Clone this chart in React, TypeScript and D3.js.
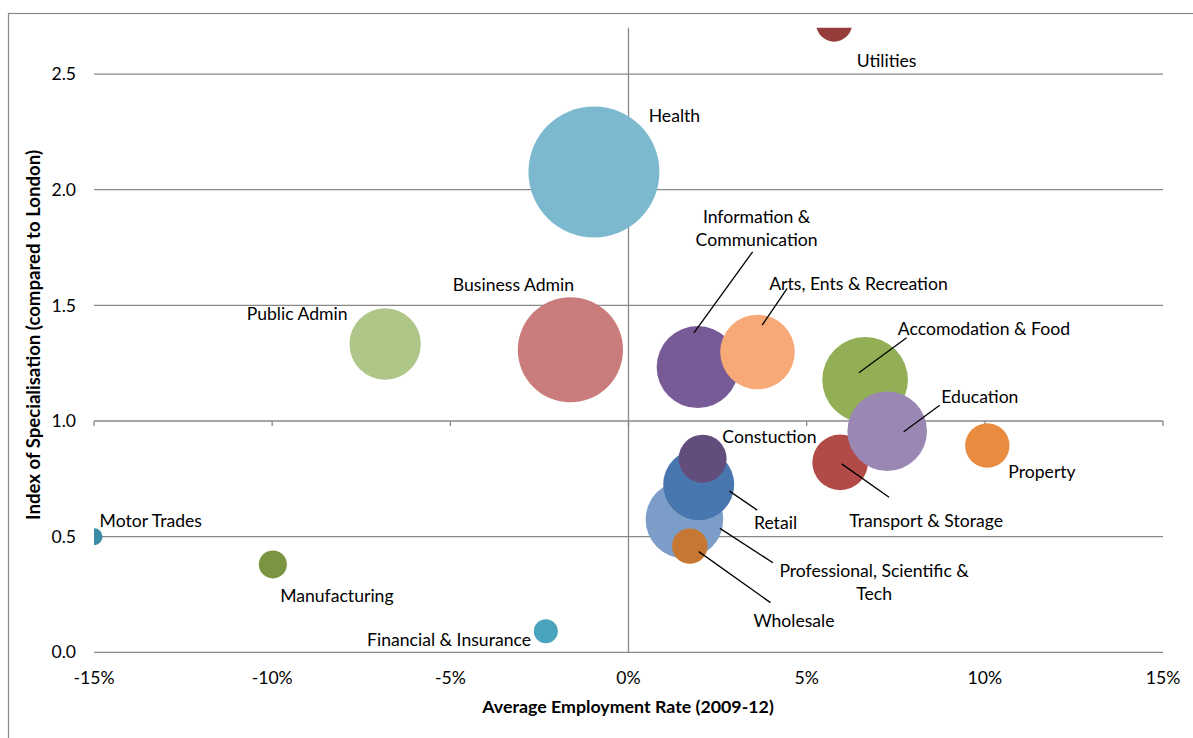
import React from "react";
import * as d3 from "d3";

// ---- data ----
const sectors = [
  "Motor Trades", "Manufacturing", "Financial & Insurance", "Utilities", "Health",
  "Public Admin", "Business Admin", "Information & Communication", "Arts, Ents & Recreation",
  "Accomodation & Food", "Transport & Storage", "Education", "Property",
  "Professional, Scientific & Tech", "Retail", "Constuction", "Wholesale",
];
const employmentRate = [
  -0.15, -0.0998, -0.0232, 0.0577, -0.0097,
  -0.0683, -0.0163, 0.0194, 0.0362,
  0.0664, 0.0594, 0.0726, 0.1007,
  0.0157, 0.0197, 0.0208, 0.0172,
];
const specialisation = [
  0.50, 0.38, 0.091, 2.718, 2.077,
  1.333, 1.308, 1.233, 1.298,
  1.178, 0.821, 0.956, 0.894,
  0.574, 0.725, 0.837, 0.459,
];
const bubbleSize = [
  72, 196, 144, 324, 4290,
  1274, 2767, 1681, 1391,
  1832, 773, 1584, 493,
  1505, 1260, 576, 313,
];
const xTicks = [-0.15, -0.1, -0.05, 0, 0.05, 0.1, 0.15];
const yTicks = [0, 0.5, 1.0, 1.5, 2.0, 2.5];

// ---- styles / layout ----
const colors = [
  "#3b8ca5", "#7a9441", "#4aa3bd", "#963c3a", "#7cb9cf",
  "#aec687", "#c97c7b", "#775b96", "#f8a978",
  "#92af55", "#b24b48", "#9b87b4", "#e98c40",
  "#7d9dc9", "#4877af", "#634d7d", "#c57733",
];
// label lines and offset (px) from bubble centre to text centre
const labelLayout: { lines: string[]; dx: number; dy: number }[] = [
  { lines: ["Motor Trades"], dx: 56.8, dy: -15.9 },
  { lines: ["Manufacturing"], dx: 64, dy: 31.4 },
  { lines: ["Financial & Insurance"], dx: -96.8, dy: 8.7 },
  { lines: ["Utilities"], dx: 52.5, dy: 37.3 },
  { lines: ["Health"], dx: 80.5, dy: -56 },
  { lines: ["Public Admin"], dx: -88, dy: -30 },
  { lines: ["Business Admin"], dx: -57, dy: -65.4 },
  { lines: ["Information &", "Communication"], dx: 59, dy: -138.6 },
  { lines: ["Arts, Ents & Recreation"], dx: 101, dy: -68.7 },
  { lines: ["Accomodation & Food"], dx: 118.8, dy: -50.5 },
  { lines: ["Transport & Storage"], dx: 86, dy: 58.5 },
  { lines: ["Education"], dx: 92.7, dy: -34.5 },
  { lines: ["Property"], dx: 54.7, dy: 26.8 },
  { lines: ["Professional, Scientific &", "Tech"], dx: 189.7, dy: 62.6 },
  { lines: ["Retail"], dx: 76.8, dy: 38.5 },
  { lines: ["Constuction"], dx: 66.8, dy: -21.8 },
  { lines: ["Wholesale"], dx: 104.2, dy: 74.5 },
];
// leader lines as offsets from bubble centre
const leaders: Record<number, [number, number, number, number]> = {
  7: [55, -115.3, -3.7, -34.3],
  8: [29.7, -63.7, 4.7, -27],
  9: [41.5, -42.1, -6.2, -7.1],
  11: [52.5, -25.9, 16.5, 0.5],
  10: [1.5, 1.5, 48.9, 34.8],
  14: [30.8, 6.5, 58.5, 25.5],
  13: [35.5, 8.8, 88.5, 43.2],
  16: [9, 5.5, 80.7, 56.5],
};

const W = 1193;
const H = 738;
const left = 94;
const right = 1163;
const top = 27.8;
const bottom = 652.3;
const FONT = "Lato, 'Open Sans', sans-serif";
const GRID = "#898989";
const LABEL_SIZE = 17.6;

export default function App() {
  const x = d3.scaleLinear().domain([-0.15, 0.15]).range([left, right]);
  const y = d3.scaleLinear().domain([0, 2.7]).range([bottom, top]);
  const r = d3.scaleSqrt().domain([0, d3.max(bubbleSize) as number]).range([0, 65.5]);
  const pct = (v: number) => `${Math.round(v * 100)}%`;
  const y1 = y(1.0);

  return (
    <svg
      width={W}
      height={H}
      style={{ position: "absolute", left: 0, top: 0, background: "#fff" }}
      fontFamily={FONT}
    >
      <defs>
        <clipPath id="plotClip">
          <rect x={left} y={top} width={right - left} height={bottom - top} />
        </clipPath>
      </defs>
      <rect x={8.5} y={13.5} width={1300} height={800} fill="#fff" stroke={GRID} strokeWidth={1.2} />

      {/* gridlines */}
      {yTicks.map((t) => (
        <line key={t} x1={left} x2={right} y1={y(t)} y2={y(t)} stroke={GRID} strokeWidth={1.3} />
      ))}
      {/* vertical axis at 0% */}
      <line x1={x(0)} x2={x(0)} y1={top} y2={bottom} stroke={GRID} strokeWidth={1.3} />
      {/* horizontal axis crossing at 1.0 with ticks */}
      {xTicks.map((t) => (
        <line key={t} x1={x(t)} x2={x(t)} y1={y1} y2={y1 + 5} stroke={GRID} strokeWidth={1.3} />
      ))}

      {/* y tick labels */}
      {yTicks.map((t) => (
        <text key={t} x={76} y={y(t)} dy="0.35em" textAnchor="end" fontSize={LABEL_SIZE} fill="#000">
          {t.toFixed(1)}
        </text>
      ))}
      {/* x tick labels */}
      {xTicks.map((t) => (
        <text key={t} x={x(t)} y={678} dy="0.35em" textAnchor="middle" fontSize={LABEL_SIZE} fill="#000">
          {pct(t)}
        </text>
      ))}

      {/* bubbles */}
      <g clipPath="url(#plotClip)">
        {sectors.map((s, i) => (
          <circle
            key={s}
            cx={x(employmentRate[i])}
            cy={y(specialisation[i])}
            r={r(bubbleSize[i])}
            fill={colors[i]}
          />
        ))}
      </g>

      {/* leader lines */}
      {Object.entries(leaders).map(([k, l]) => {
        const i = +k;
        const cx = x(employmentRate[i]);
        const cy = y(specialisation[i]);
        return (
          <line key={k} x1={cx + l[0]} y1={cy + l[1]} x2={cx + l[2]} y2={cy + l[3]} stroke="#000" strokeWidth={1.3} />
        );
      })}

      {/* labels */}
      {sectors.map((s, i) => {
        const L = labelLayout[i];
        const cx = x(employmentRate[i]) + L.dx;
        const cy = y(specialisation[i]) + L.dy;
        const lh = 23.5;
        const n = L.lines.length;
        return (
          <text key={s} textAnchor="middle" fontSize={LABEL_SIZE} fill="#000">
            {L.lines.map((ln, j) => (
              <tspan key={j} x={cx} y={cy + (j - (n - 1) / 2) * lh} dy="0.35em">
                {ln}
              </tspan>
            ))}
          </text>
        );
      })}

      {/* axis titles */}
      <text x={628} y={707} dy="0.35em" textAnchor="middle" fontSize={17.8} fontWeight="bold" fill="#000">
        Average Employment Rate (2009-12)
      </text>
      <text
        transform={`translate(33, 335) rotate(-90)`}
        dy="0.35em"
        textAnchor="middle"
        fontSize={18.6}
        fontWeight="bold"
        fill="#000"
      >
        Index of Specialisation (compared to London)
      </text>
    </svg>
  );
}
